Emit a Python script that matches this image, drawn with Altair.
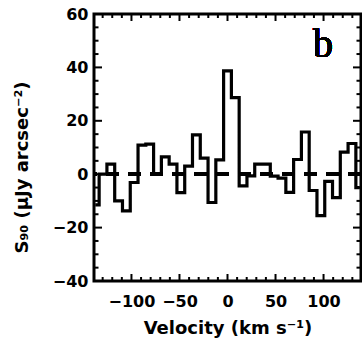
import altair as alt
import pandas as pd

# channel velocities (km/s) and surface brightness S90 (uJy arcsec^-2)
velocity = [-137.7, -129.6, -121.5, -113.4, -105.3, -97.2, -89.1, -81.0, -72.9,
            -64.8, -56.7, -48.6, -40.5, -32.4, -24.3, -16.2, -8.1, 0.0, 8.1,
            16.2, 24.3, 32.4, 40.5, 48.6, 56.7, 64.8, 72.9, 81.0, 89.1, 97.2,
            105.3, 113.4, 121.5, 129.6, 137.7]
flux = [-11.5, 0.0, 3.8, -10.0, -13.7, -3.1, 10.9, 11.3, 0.0, 6.5, 3.8, -6.9,
        3.0, 14.7, 6.0, -10.6, 5.4, 38.7, 28.7, -4.4, -0.6, 3.8, 3.8, -0.7,
        -1.5, -6.8, 5.5, 15.8, -6.1, -15.5, -2.7, -8.75, 8.3, 11.5, -5.0]

x_major = [-100, -50, 0, 50, 100]
x_minor = [-130, -120, -110, -90, -80, -70, -60, -40, -30, -20, -10,
           10, 20, 30, 40, 60, 70, 80, 90, 110, 120, 130]
y_major = [-40, -20, 0, 20, 40, 60]
y_minor = [-35, -30, -25, -15, -10, -5, 5, 10, 15, 25, 30, 35, 45, 50, 55]

df = pd.DataFrame({"v": velocity, "s": flux})
xmaj = pd.DataFrame({"t": x_major})
xmin = pd.DataFrame({"t": x_minor})
ymaj = pd.DataFrame({"t": y_major})
ymin = pd.DataFrame({"t": y_minor})

W, H = 267, 267
FONT = "DejaVu Sans"
xscale = alt.Scale(domain=[-139, 139], nice=False, zero=False)
yscale = alt.Scale(domain=[-40, 60], nice=False, zero=False)

x_main = alt.Axis(orient="bottom", values=x_major, ticks=False, domain=False,
                  grid=False, labelFont=FONT, labelFontSize=16,
                  labelFontWeight="bold", labelColor="black", labelPadding=12,
                  title="Velocity (km s⁻¹)", titleFont=FONT, titleFontSize=18,
                  titleFontWeight="bold", titleColor="black", titlePadding=10)
y_main = alt.Axis(orient="left", values=y_major, ticks=False, domain=False,
                  grid=False, labelFont=FONT, labelFontSize=16,
                  labelFontWeight="bold", labelColor="black", labelPadding=6,
                  title="S₉₀ (μJy arcsec⁻²)", titleFont=FONT, titleFontSize=18,
                  titleFontWeight="bold", titleColor="black",
                  titleAngle=270, titleAlign="center", titleBaseline="bottom",
                  titleX=-63, titleY=153)

hist = alt.Chart(df).mark_line(interpolate="step", color="black",
                               strokeWidth=3.2, clip=True).encode(
    x=alt.X("v:Q", scale=xscale, axis=x_main),
    y=alt.Y("s:Q", scale=yscale, axis=y_main),
)

zero = alt.Chart(df).mark_rule(color="black", strokeWidth=3,
                               strokeDash=[13, 9]).encode(
    y=alt.datum(0, scale=yscale)
)


def xticks(data, y0, y1):
    return alt.Chart(data).mark_rule(color="black", strokeWidth=2).encode(
        x=alt.X("t:Q", scale=xscale), y=alt.value(y0), y2=alt.value(y1))


def yticks(data, x0, x1):
    return alt.Chart(data).mark_rule(color="black", strokeWidth=2).encode(
        y=alt.Y("t:Q", scale=yscale), x=alt.value(x0), x2=alt.value(x1))


label = alt.Chart(df).mark_text(text="b", font="Liberation Serif", fontSize=40,
                                align="center", baseline="alphabetic",
                                color="black").encode(
    x=alt.value(229), y=alt.value(43)
)

layers = [
    zero,
    hist,
    xticks(xmaj, H, H - 7), xticks(xmin, H, H - 4),
    xticks(xmaj, 0, 7), xticks(xmin, 0, 4),
    yticks(ymaj, 0, 8), yticks(ymin, 0, 4.5),
    yticks(ymaj, W, W - 8), yticks(ymin, W, W - 4.5),
    label,
]

chart = alt.layer(*layers).properties(
    width=W, height=H,
    padding={"left": 94, "top": 14, "right": 1, "bottom": 61},
    autosize=alt.AutoSizeParams(type="none"),
    background="white",
).configure_view(stroke="black", strokeWidth=3)

chart.save("out.html", embed_options={"renderer": "svg", "actions": False})
